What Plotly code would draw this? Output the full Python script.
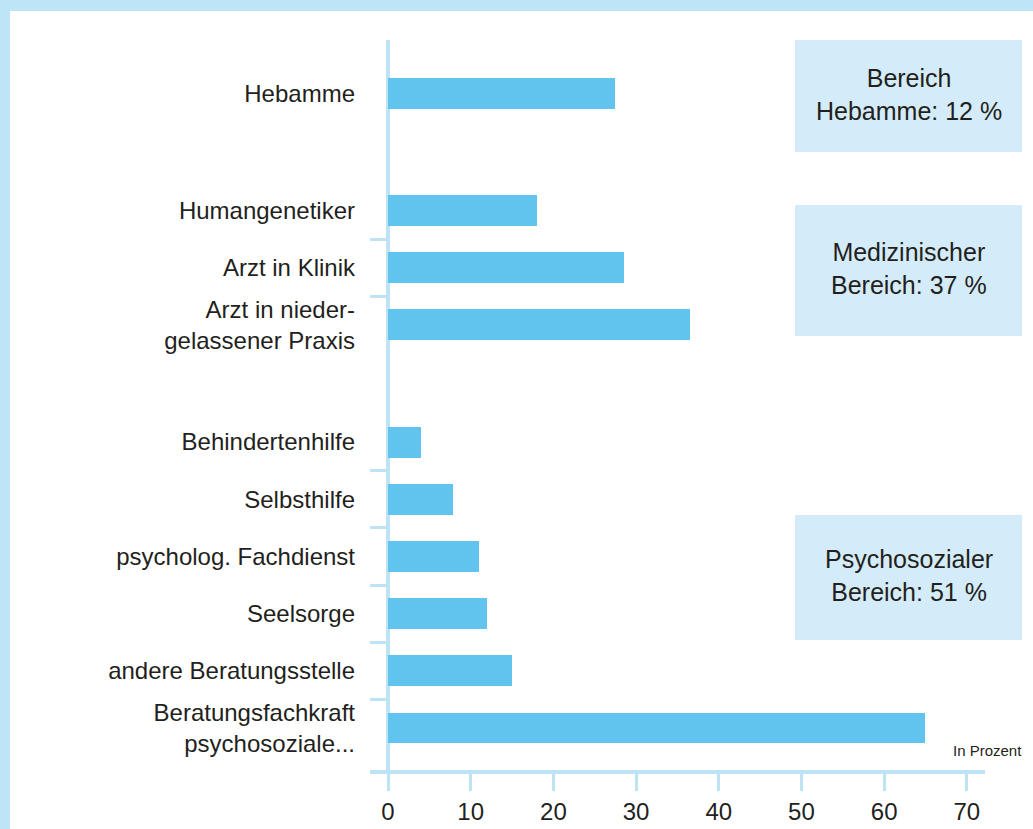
import plotly.graph_objects as go

# ---- data ----
groups = [
    ["Beratungsfachkraft<br>psychosoziale...", "andere Beratungsstelle", "Seelsorge",
     "psycholog. Fachdienst", "Selbsthilfe", "Behindertenhilfe"],
    ["Arzt in nieder-<br>gelassener Praxis", "Arzt in Klinik", "Humangenetiker"],
    ["Hebamme"],
]
values = [
    [65.0, 15.0, 12.0, 11.0, 7.8, 4.0],
    [36.5, 28.5, 18.0],
    [27.5],
]
box_texts = ["Psychosozialer<br>Bereich: 51 %", "Medizinischer<br>Bereich: 37 %", "Bereich<br>Hebamme: 12 %"]
x_ticks = [0, 10, 20, 30, 40, 50, 60, 70]
unit_label = "In Prozent"

# ---- styles ----
BAR = "#60c4ef"
AXIS = "#bde3f5"
BOX = "#d4ecf9"
FRAME = "#bde4f7"
TXT = "#231f20"
FONT = "Liberation Sans, Arial, sans-serif"

# positions: step 1 inside a group, larger gap between groups
GAP = 2.05
pos, cats, vals, minor = [], [], [], []
y = 0.0
for gi, (g, v) in enumerate(zip(groups, values)):
    if gi > 0:
        y += GAP - 1
    for i, (c, val) in enumerate(zip(g, v)):
        if i > 0:
            minor.append(y - 0.5)
        pos.append(y)
        cats.append(c)
        vals.append(val)
        y += 1

fig = go.Figure(go.Bar(
    x=vals, y=pos, orientation="h", width=0.54,
    marker=dict(color=BAR, line=dict(width=0)),
    hoverinfo="skip",
))

W, H = 1033, 829
L, R, T, B = 370, 48, 40, 59
pw, ph = W - L - R, H - T - B

def px(x):
    return (x - L) / pw

def py(y):
    return (H - B - y) / ph

shapes = [
    dict(type="rect", xref="paper", yref="paper", x0=px(10), x1=px(1060),
         y0=py(860), y1=py(11), fillcolor="white", line=dict(width=0), layer="below"),
]
boxes = [(795, 1022, 515, 640), (795, 1022, 205, 336), (795, 1022, 40, 152)]
annotations = []
for (x0, x1, y0, y1), t in zip(boxes, box_texts):
    shapes.append(dict(type="rect", xref="paper", yref="paper", x0=px(x0), x1=px(x1),
                       y0=py(y1), y1=py(y0), fillcolor=BOX, line=dict(width=0), layer="below"))
    annotations.append(dict(xref="paper", yref="paper", x=px((x0 + x1) / 2), y=py((y0 + y1) / 2 - 2),
                            text=t, showarrow=False, font=dict(size=25, color=TXT, family=FONT),
                            xanchor="center", yanchor="middle", align="center"))
annotations.append(dict(xref="paper", yref="paper", x=px(1024), y=py(750), text=unit_label,
                        showarrow=False, font=dict(size=15, color=TXT, family=FONT),
                        xanchor="right", yanchor="middle"))

fig.update_layout(
    width=W, height=H,
    margin=dict(l=L, r=R, t=T, b=B, pad=0, autoexpand=False),
    paper_bgcolor=FRAME, plot_bgcolor="white",
    showlegend=False,
    shapes=shapes, annotations=annotations,
    bargap=0,
    xaxis=dict(
        range=[-2.18, 72.2], tickvals=x_ticks, ticktext=[str(t) for t in x_ticks],
        showgrid=False, zeroline=True, zerolinecolor=AXIS, zerolinewidth=4,
        showline=True, linecolor=AXIS, linewidth=4,
        ticks="outside", ticklen=17, tickwidth=3, tickcolor=AXIS,
        tickfont=dict(size=24, color=TXT, family=FONT),
        fixedrange=True, automargin=False,
    ),
    yaxis=dict(
        range=[-0.734, 12.03], tickvals=pos, ticktext=cats,
        showgrid=False, zeroline=False, showline=False,
        ticks="", ticklabelstandoff=14,
        minor=dict(tickvals=minor, ticks="inside", ticklen=18, tickwidth=3, tickcolor=AXIS, showgrid=False),
        tickfont=dict(size=24, color=TXT, family=FONT),
        fixedrange=True, automargin=False,
    ),
)

fig.write_html(
    "out.html",
    config={"displayModeBar": False},
    post_script="document.body.style.margin='0';document.body.style.background='%s';" % FRAME,
)
